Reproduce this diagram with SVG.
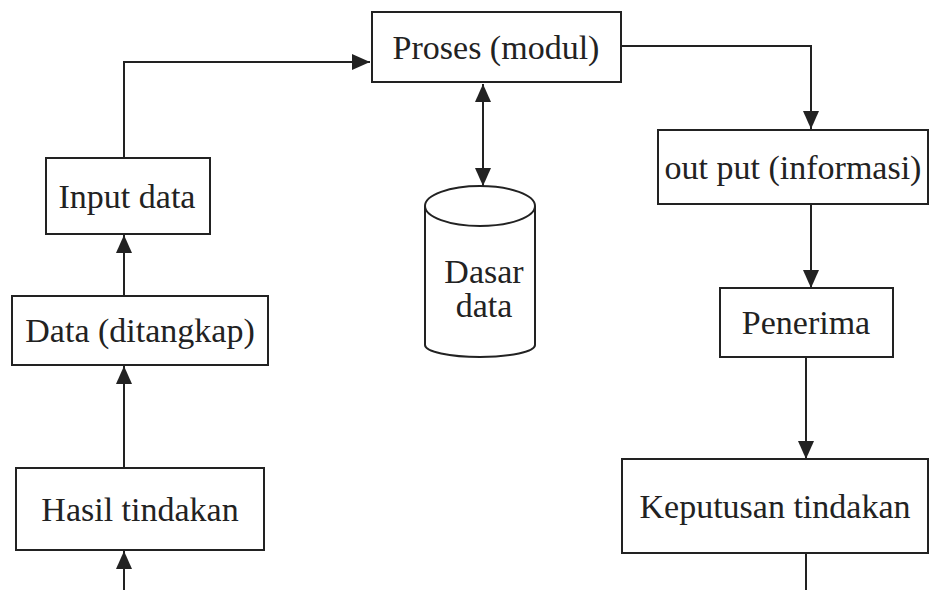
<svg xmlns="http://www.w3.org/2000/svg" width="930" height="590" viewBox="0 0 930 590">
<style>
.box{fill:#fff;stroke:#222;stroke-width:2}
.lbl{font-family:"Liberation Serif","Times New Roman",serif;font-size:34px;fill:#222;text-anchor:middle}
.con{fill:none;stroke:#222;stroke-width:2}
</style>
<defs>
<marker id="ah" markerUnits="userSpaceOnUse" markerWidth="20" markerHeight="18" refX="18" refY="9" orient="auto-start-reverse">
<path d="M0,1 L18,9 L0,17 Z" fill="#222"/>
</marker>
</defs>
<rect width="930" height="590" fill="#fff"/>
<g id="connectors">
<path class="con" d="M124,158 V62 H370" marker-end="url(#ah)"/>
<path class="con" d="M483,84 V186" marker-start="url(#ah)" marker-end="url(#ah)"/>
<path class="con" d="M621,46 H811 V129" marker-end="url(#ah)"/>
<path class="con" d="M811,204 V288" marker-end="url(#ah)"/>
<path class="con" d="M806,357 V459" marker-end="url(#ah)"/>
<path class="con" d="M806,553 V590"/>
<path class="con" d="M124,296 V235" marker-end="url(#ah)"/>
<path class="con" d="M124,468 V366" marker-end="url(#ah)"/>
<path class="con" d="M124,590 V551" marker-end="url(#ah)"/>
</g>
<g id="proses">
<rect class="box" x="372" y="12" width="249" height="70"/>
<text class="lbl" x="496" y="59">Proses (modul)</text>
</g>
<g id="database">
<path class="box" d="M425,206 V345 A55,12 0 0 0 535,345 V206"/>
<ellipse class="box" cx="480" cy="206" rx="55" ry="20"/>
<text class="lbl" x="484" y="283">Dasar</text>
<text class="lbl" x="484" y="317">data</text>
</g>
<g id="output">
<rect class="box" x="658" y="130" width="270" height="74"/>
<text class="lbl" x="793" y="179">out put (informasi)</text>
</g>
<g id="penerima">
<rect class="box" x="720" y="288" width="173" height="69"/>
<text class="lbl" x="806" y="334">Penerima</text>
</g>
<g id="keputusan">
<rect class="box" x="622" y="459" width="306" height="94"/>
<text class="lbl" x="775" y="518">Keputusan tindakan</text>
</g>
<g id="input">
<rect class="box" x="46" y="158" width="164" height="76"/>
<text class="lbl" x="127" y="208">Input data</text>
</g>
<g id="data">
<rect class="box" x="12" y="296" width="256" height="69"/>
<text class="lbl" x="140" y="342">Data (ditangkap)</text>
</g>
<g id="hasil">
<rect class="box" x="16" y="468" width="248" height="82"/>
<text class="lbl" x="140" y="521">Hasil tindakan</text>
</g>
</svg>
